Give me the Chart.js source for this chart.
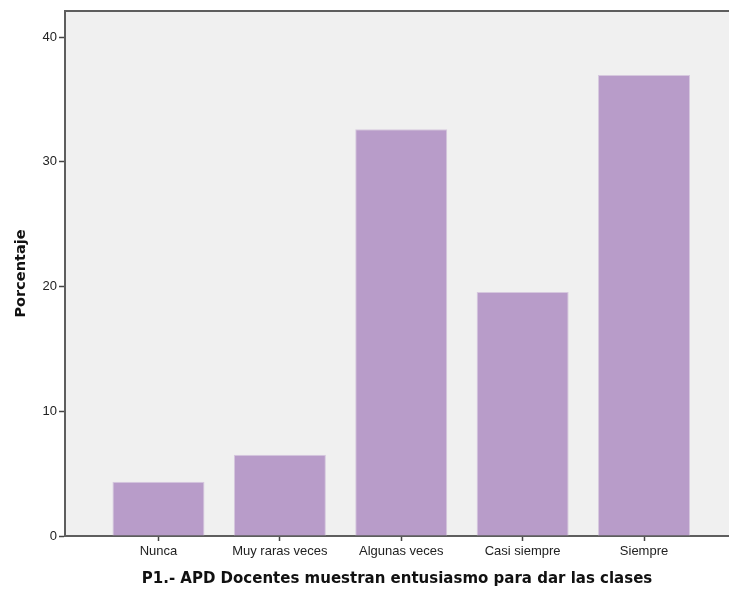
<!DOCTYPE html>
<html>
<head>
<meta charset="utf-8">
<script src="https://cdn.jsdelivr.net/npm/chart.js@4/dist/chart.umd.min.js"></script>
<style>
  html, body { margin: 0; padding: 0; background: #fff; overflow: hidden; }
  #wrap { width: 729px; height: 590px; position: relative; }
</style>
</head>
<body>
<div id="wrap"><canvas id="chart" width="729" height="590"></canvas></div>
<script>
// Data
const categories = ['Nunca', 'Muy raras veces', 'Algunas veces', 'Casi siempre', 'Siempre'];
const percentages = [4.35, 6.52, 32.61, 19.57, 36.96];
const yTicks = [0, 10, 20, 30, 40];

const xTitle = 'P1.- APD Docentes muestran entusiasmo para dar las clases';
const yTitle = 'Porcentaje';

// Plot background + top frame line
const framePlugin = {
    id: 'frame',
    beforeDraw(chart) {
        const { ctx, chartArea: a } = chart;
        ctx.save();
        ctx.fillStyle = '#f0f0f0';
        ctx.fillRect(a.left, a.top, a.right - a.left, a.bottom - a.top);
        ctx.restore();
    },
    afterDraw(chart) {
        const { ctx, chartArea: a } = chart;
        ctx.save();
        ctx.strokeStyle = '#5e5e5e';
        ctx.lineWidth = 2;
        ctx.beginPath();
        ctx.moveTo(a.left - 1, a.top);
        ctx.lineTo(a.right, a.top);
        ctx.stroke();
        ctx.restore();
    }
};

new Chart(document.getElementById('chart').getContext('2d'), {
    type: 'bar',
    data: {
        datasets: [{
            label: 'Porcentaje',
            data: percentages.map((v, i) => ({ x: i, y: v })),
            backgroundColor: '#b89cc9',
            borderColor: '#d6c8de',
            borderWidth: 1,
            borderSkipped: 'bottom',
            categoryPercentage: 1,
            barPercentage: 0.758
        }]
    },
    options: {
        responsive: false,
        animation: false,
        layout: { padding: { top: 11, right: 0, bottom: 2, left: 0 } },
        plugins: { legend: { display: false }, tooltip: { enabled: false } },
        scales: {
            x: {
                type: 'linear',
                offset: false,
                min: -0.77,
                max: 4.7,
                afterBuildTicks: s => { s.ticks = categories.map((c, i) => ({ value: i })); },
                afterFit: s => { s.height = 52; },
                ticks: {
                    callback: v => categories[v],
                    color: '#222',
                    font: { family: 'Liberation Sans', size: 13 },
                    padding: 3,
                    maxRotation: 0,
                    autoSkip: false
                },
                grid: { offset: false, drawOnChartArea: false, color: '#444', tickLength: 5, tickWidth: 1.5 },
                border: { color: '#5e5e5e', width: 2 },
                title: {
                    display: true,
                    text: xTitle,
                    color: '#111',
                    font: { family: 'DejaVu Sans', size: 15, weight: 'bold' },
                    padding: { top: 5, bottom: 0 }
                }
            },
            y: {
                min: 0,
                max: 42.1,
                afterBuildTicks: s => { s.ticks = yTicks.map(v => ({ value: v })); },
                afterFit: s => { s.width = 65; },
                ticks: {
                    color: '#222',
                    font: { family: 'Liberation Sans', size: 13 },
                    padding: 2
                },
                grid: { drawOnChartArea: false, color: '#444', tickLength: 6, tickWidth: 1.5 },
                border: { color: '#5e5e5e', width: 2 },
                title: {
                    display: true,
                    text: yTitle,
                    color: '#111',
                    font: { family: 'DejaVu Sans', size: 14.5, weight: 'bold' },
                    padding: { top: 13, bottom: 0 }
                }
            }
        }
    },
    plugins: [framePlugin]
});
</script>
</body>
</html>
